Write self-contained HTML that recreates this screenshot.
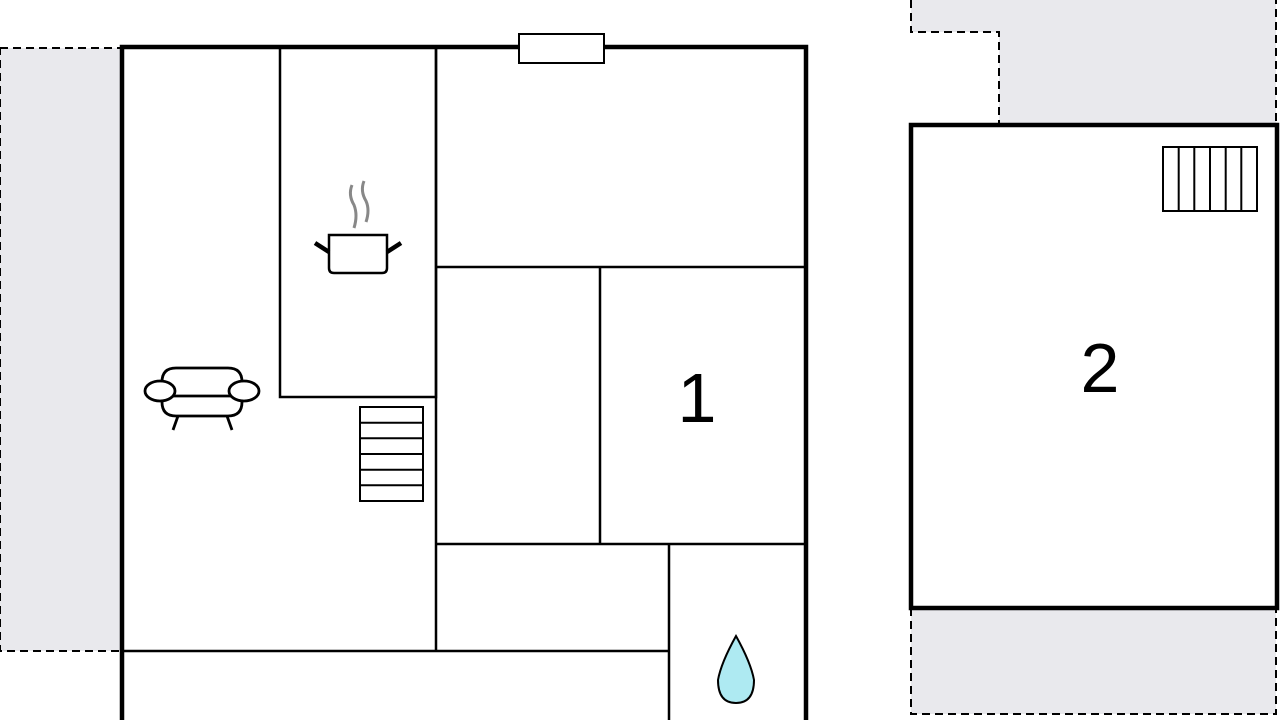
<!DOCTYPE html>
<html><head><style>body{margin:0;background:#fff}svg{display:block}</style></head><body>
<svg width="1280" height="720" viewBox="0 0 1280 720" xmlns="http://www.w3.org/2000/svg">
<g fill="#e9e9ed" stroke="#000" stroke-width="2" stroke-dasharray="8,5">
<rect x="0" y="48" width="122" height="603"/>
<path d="M911 0 V32 H999 V125 H1276 V0"/>
<path d="M911 608 V714 H1276 V608"/>
</g>
<rect x="122" y="47" width="684" height="700" fill="#fff" stroke="#000" stroke-width="4.5"/>
<rect x="911" y="125" width="366" height="483" fill="#fff" stroke="#000" stroke-width="4.5"/>
<g stroke="#000" stroke-width="2.5" fill="none">
<rect x="280" y="47" width="156" height="350"/>
<line x1="436" y1="47" x2="436" y2="651"/>
<line x1="436" y1="267" x2="806" y2="267"/>
<line x1="600" y1="267" x2="600" y2="544"/>
<line x1="436" y1="544" x2="806" y2="544"/>
<line x1="669" y1="544" x2="669" y2="720"/>
<line x1="122" y1="651" x2="669" y2="651"/>
<rect x="519" y="34" width="85" height="29" fill="#fff" stroke-width="2"/>
<rect x="360" y="407" width="63" height="94" stroke-width="2"/>
<path d="M360 422.7H423M360 438.3H423M360 454H423M360 469.7H423M360 485.3H423" stroke-width="2"/>
<rect x="1163" y="147" width="94" height="64" stroke-width="2"/>
<path d="M1178.7 147V211M1194.3 147V211M1210 147V211M1225.7 147V211M1241.3 147V211" stroke-width="2"/>
</g>
<!-- pot -->
<g fill="none" stroke="#000">
<path d="M329 235 H387 V268 Q387 273 382 273 H334 Q329 273 329 268 Z" stroke-width="2.5"/>
<path d="M315 243 L329 252 M387 252 L401 243" stroke-width="4.5"/>
<path d="M352 185 Q348 195 354 205 Q358 215 354 228 M364 181 Q360 191 366 201 Q370 210 366 222" stroke="#888" stroke-width="3"/>
</g>
<!-- sofa -->
<g fill="#fff" stroke="#000" stroke-width="2.8">
<path d="M162 382 Q162 368 176 368 H228 Q242 368 242 382 V402 Q242 416 228 416 H176 Q162 416 162 402 Z"/>
<line x1="172" y1="396" x2="232" y2="396"/>
<ellipse cx="160" cy="391" rx="15" ry="10"/>
<ellipse cx="244" cy="391" rx="15" ry="10"/>
<path d="M178 416 L173 430 M227 416 L232 430" fill="none"/>
</g>
<path d="M736 636 Q721 663 718 680 Q718 703 736 703 Q754 703 754 680 Q751 663 736 636 Z" fill="#aeeaf2" stroke="#000" stroke-width="2"/>
<g font-family="Liberation Sans, sans-serif" font-size="70" text-anchor="middle" fill="#000">
<text x="697" y="422">1</text>
<text x="1100" y="392">2</text>
</g>
</svg>
</body></html>
